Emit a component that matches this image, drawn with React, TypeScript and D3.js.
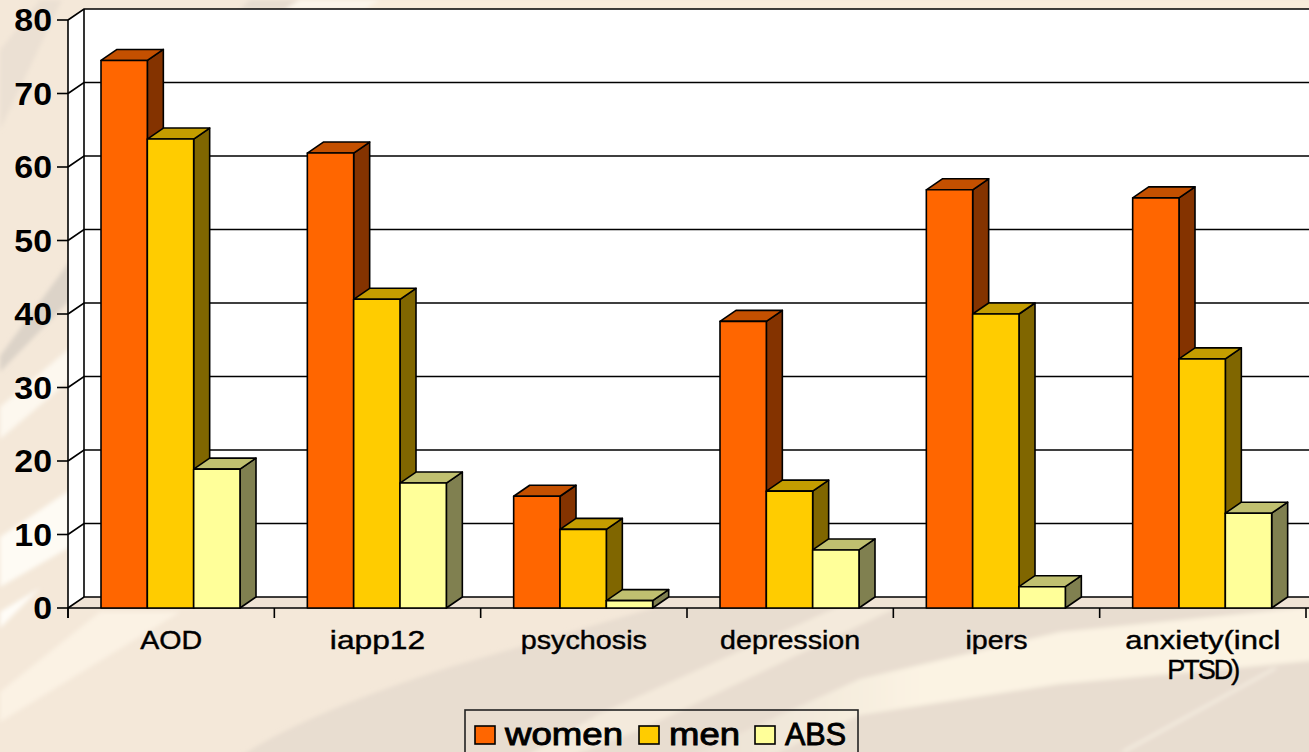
import React, { useEffect } from "react";
import * as d3 from "d3";

const categories = ["AOD", "iapp12", "psychosis", "depression", "ipers", "anxiety(incl|PTSD)"];
const seriesNames = ["women", "men", "ABS"];
const women = [74.5, 61.9, 15.2, 39, 56.9, 55.8];
const men = [63.8, 42, 10.7, 15.9, 40, 33.9];
const abs = [18.9, 17, 1, 7.9, 2.9, 12.9];
const yTicks = [0, 10, 20, 30, 40, 50, 60, 70, 80];

const frontColors = ["#ff6600", "#ffcc00", "#ffff99"];
const topColors = ["#c45000", "#c49d00", "#c0c070"];
const sideColors = ["#843300", "#806600", "#808050"];

const WIDTH = 1309;
const HEIGHT = 752;
const DEPTH_X = 16;
const DEPTH_Y = -11;
const FONT = "'Liberation Sans', Arial, sans-serif";

// text in the original was stretched unevenly, so each label has its own x scale
const labelStretch: Record<string, number> = {
  AOD: 1.145,
  iapp12: 1.27,
  psychosis: 1.15,
  depression: 1.146,
  ipers: 1.145,
  "anxiety(incl": 1.24,
  "PTSD)": 1,
};
const legendX = [475, 639, 755];
const legendTextWidth = [118, 71, 61];

// background streaks over the beige
const streaks = [
  { d: "M0,50 L40,0 L62,0 L0,130 Z", fill: "#ebe0d3" },
  { d: "M0,356 L70,261 L70,300 L0,372 Z", fill: "#dcd3c8" },
  { d: "M0,407 L70,348 L70,380 L0,439 Z", fill: "#fdf8ef" },
  { d: "M0,537 L70,490 L70,547 L0,587 Z", fill: "#fefbf4" },
  { d: "M0,612 L40,588 L0,628 Z", fill: "#fffdf8" },
  { d: "M0,692 L100,612 L180,612 L0,722 Z", fill: "#fbf2e4" },
  { d: "M235,760 Q300,715 450,667 L660,606 L1320,606 L1320,760 Z", fill: "#e8ddd0" },
  { d: "M597,715 L840,606 L900,606 L640,730 L560,760 L520,760 Z", fill: "#f4eadc" },
  { d: "M690,756 L860,679 L1060,632 L1320,606 L1320,660 L1193,672 L1060,684 L860,715 L770,756 Z", fill: "url(#fade)" },
  { d: "M1273,668 L1120,752 L1126,752 L1278,668 Z", fill: "#f5eee2" },
  { d: "M250,0 L300,0 L285,9 L240,9 Z", fill: "#e6dccf" },
  { d: "M300,0 L380,0 L365,9 L285,9 Z", fill: "#fdf7ec" },
  { d: "M380,0 L1320,0 L1320,9 L365,9 Z", fill: "#f9eddc" },
];

export default function App() {
  useEffect(() => {
    document.body.style.margin = "0";
  }, []);

  const y = d3.scaleLinear().domain([0, 80]).range([608, 20]);
  const x0 = d3.scaleBand().domain(categories).range([68, 1306]);
  const x1 = d3.scaleBand().domain(seriesNames).range([33, 172]);

  const rows = [women, men, abs];
  const backTop = y(80) + DEPTH_Y;
  const backBottom = y(0) + DEPTH_Y;
  const xLeft = x0.range()[0];

  return (
    <svg
      width={WIDTH}
      height={HEIGHT}
      style={{ position: "absolute", left: 0, top: 0, display: "block" }}
      fontFamily={FONT}
    >
      <defs>
        <filter id="soft">
          <feGaussianBlur stdDeviation="2" />
        </filter>
        <linearGradient id="fade" gradientUnits="userSpaceOnUse" x1={700} x2={920} y1={0} y2={0}>
          <stop offset="0" stopColor="#ebe1d4" />
          <stop offset="1" stopColor="#fbf3e3" />
        </linearGradient>
      </defs>
      <rect width={WIDTH} height={HEIGHT} fill="#f4e8d9" />
      <g filter="url(#soft)">
        {streaks.map((s, i) => (
          <path key={i} d={s.d} fill={s.fill} />
        ))}
      </g>

      {/* side wall */}
      <path
        d={`M${xLeft},${y(0)} L${xLeft},${y(80)} L${xLeft + DEPTH_X},${backTop} L${xLeft + DEPTH_X},${backBottom} Z`}
        fill="#fff"
      />
      {/* back wall */}
      <rect x={xLeft + DEPTH_X} y={backTop} width={WIDTH} height={backBottom - backTop} fill="#fff" />
      {/* floor */}
      <path
        d={`M${xLeft},${y(0)} L${xLeft + DEPTH_X},${backBottom} L${WIDTH + 10},${backBottom} L${WIDTH + 10},${y(0)} Z`}
        fill="#efe3d5"
      />

      {yTicks.map((t) => (
        <g key={t} stroke="#000" strokeWidth={1.6} fill="none">
          <path
            d={`M${xLeft},${y(t)} L${xLeft + DEPTH_X},${y(t) + DEPTH_Y} L${WIDTH + 10},${y(t) + DEPTH_Y}`}
          />
          <line x1={xLeft - 11} x2={xLeft} y1={y(t)} y2={y(t)} />
        </g>
      ))}
      <line x1={xLeft + DEPTH_X} x2={xLeft + DEPTH_X} y1={backTop} y2={backBottom} stroke="#000" strokeWidth={1.6} />
      <line x1={xLeft} x2={xLeft} y1={y(80)} y2={y(0) + 10} stroke="#000" strokeWidth={1.6} />
      <line x1={xLeft} x2={WIDTH + 10} y1={y(0)} y2={y(0)} stroke="#000" strokeWidth={1.6} />
      {d3.range(categories.length + 1).map((i) => {
        const tx = xLeft + i * x0.step();
        return <line key={i} x1={tx} x2={tx} y1={y(0)} y2={y(0) + 10} stroke="#000" strokeWidth={1.6} />;
      })}

      {yTicks.map((t) => (
        <text
          key={t}
          transform={`translate(52,${y(t)}) scale(1.06,1)`}
          dy="0.35em"
          textAnchor="end"
          fontSize={32}
          fontWeight="bold"
          fill="#000"
        >
          {t}
        </text>
      ))}

      {categories.map((c, ci) => (
        <g key={c} transform={`translate(${x0(c)},0)`}>
          {seriesNames.map((s, si) => {
            const bx = x1(s)!;
            const w = x1.bandwidth();
            const top = y(rows[si][ci]);
            const base = y(0);
            return (
              <g key={s} stroke="#000" strokeWidth={1.6} strokeLinejoin="round">
                <path
                  d={`M${bx + w},${top} L${bx + w + DEPTH_X},${top + DEPTH_Y} L${bx + w + DEPTH_X},${base + DEPTH_Y} L${bx + w},${base} Z`}
                  fill={sideColors[si]}
                />
                <path
                  d={`M${bx},${top} L${bx + DEPTH_X},${top + DEPTH_Y} L${bx + w + DEPTH_X},${top + DEPTH_Y} L${bx + w},${top} Z`}
                  fill={topColors[si]}
                />
                <rect x={bx} y={top} width={w} height={base - top} fill={frontColors[si]} />
              </g>
            );
          })}
          {c.split("|").map((part, li) => (
            <text
              key={part}
              transform={`translate(${x0.bandwidth() / 2},${649 + li * 30}) scale(${labelStretch[part]},1)`}
              textAnchor="middle"
              fontSize={part === "PTSD)" ? 27 : 25}
              letterSpacing={part === "PTSD)" ? -2 : 0}
              fill="#000"
              stroke="#000"
              strokeWidth={0.4}
            >
              {part}
            </text>
          ))}
        </g>
      ))}

      {/* legend */}
      <rect x={465} y={710} width={393} height={50} fill="none" stroke="#222" strokeWidth={1.6} />
      {seriesNames.map((s, si) => (
        <g key={s}>
          <rect x={legendX[si]} y={726} width={20} height={18} fill={frontColors[si]} stroke="#000" strokeWidth={1.6} />
          <text
            x={legendX[si] + 30}
            y={745}
            fontSize={31}
            fill="#000"
            stroke="#000"
            strokeWidth={0.9}
            textLength={legendTextWidth[si]}
            lengthAdjust="spacingAndGlyphs"
          >
            {s}
          </text>
        </g>
      ))}
    </svg>
  );
}
